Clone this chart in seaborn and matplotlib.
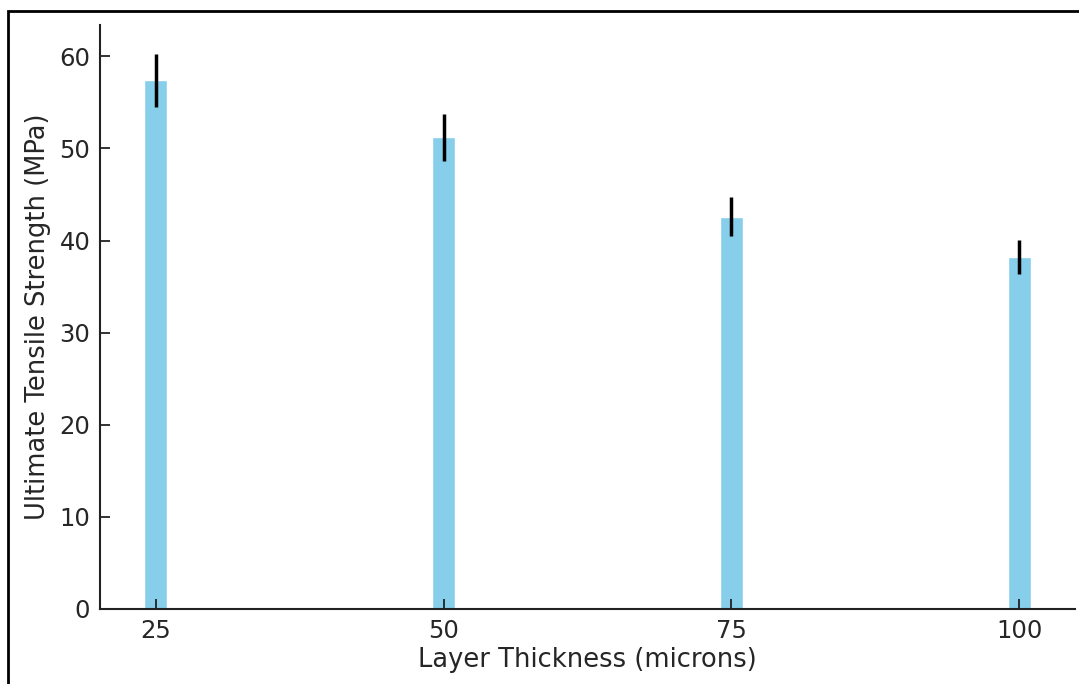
import matplotlib
matplotlib.use("Agg")
import matplotlib.pyplot as plt
import seaborn as sns
import pandas as pd
from matplotlib.patches import Rectangle

thickness = [25, 50, 75, 100]
strength = [57.4, 51.2, 42.6, 38.2]
strength_err = [2.9, 2.55, 2.1, 1.85]

sns.set_theme(style="ticks")
plt.rcParams['font.family'] = ['DejaVu Sans']
plt.rcParams['axes.axisbelow'] = False

df = pd.DataFrame({"Layer Thickness (microns)": thickness,
                   "Ultimate Tensile Strength (MPa)": strength})

fig = plt.figure(figsize=(10.79, 6.84), dpi=100)
ax = fig.add_axes([100/1079, 1-609/684, (1075-100)/1079, (609-25)/684])

sns.barplot(data=df, x="Layer Thickness (microns)", y="Ultimate Tensile Strength (MPa)",
            native_scale=True, width=0.08, color="skyblue", saturation=1,
            errorbar=None, ax=ax)
ax.errorbar(thickness, strength, yerr=strength_err, fmt="none",
            ecolor="black", elinewidth=2.5, capsize=0)

ax.set_xticks(thickness)
ax.set_xticklabels([str(t) for t in thickness])
ax.set_xlim(20.15, 104.85)
ax.set_ylim(0, 63.4)
ax.set_yticks([0, 10, 20, 30, 40, 50, 60])

ax.spines["top"].set_visible(False)
ax.spines["right"].set_visible(False)
for s in ["left", "bottom"]:
    ax.spines[s].set_linewidth(1.5)
    ax.spines[s].set_edgecolor("#222222")

ax.set_xlabel("Layer Thickness (microns)", fontsize=18.5, color="#262626", labelpad=3)
ax.set_ylabel("Ultimate Tensile Strength (MPa)", fontsize=18.5, color="#262626", labelpad=6)

ax.set_axisbelow(False)
ax.tick_params(axis="both", which="major", direction="in", length=7, width=1.3,
               color="#222222", labelsize=17.5, pad=7, left=True, bottom=True)

fig.patches.append(Rectangle((8/1079, -0.1), 1.2, 1 - 11/684 + 0.1,
                             transform=fig.transFigure, fill=False,
                             edgecolor="black", linewidth=2, zorder=10))

fig.savefig("out.png", dpi=100)
